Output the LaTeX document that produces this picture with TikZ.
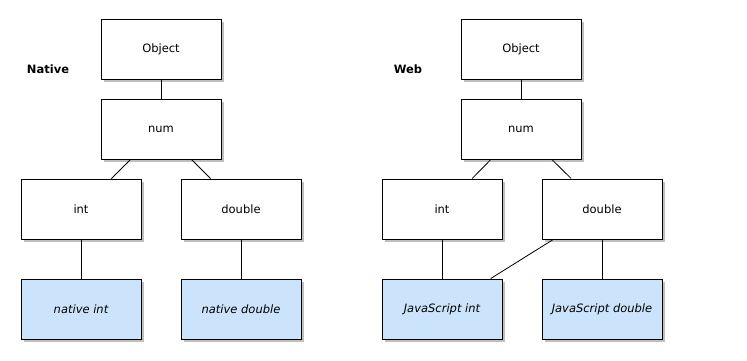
\documentclass[tikz,border=0pt]{standalone}
\usepackage{fontspec}
\setmainfont{DejaVu Sans}
\usetikzlibrary{shadows}
\definecolor{boxblue}{RGB}{204,228,251}

\begin{document}
\begin{tikzpicture}[x=1pt, y=1pt, every node/.style={font=\fontsize{11.5}{13}\selectfont},
	t/.style={draw, line width=0.9pt, fill=white, minimum width=120pt, minimum height=60pt, inner sep=0pt, drop shadow={shadow xshift=3pt, shadow yshift=-3pt, fill=black!25, opacity=1}},
	impl/.style={t, fill=boxblue, font=\fontsize{11.5}{13}\selectfont\itshape},
	e/.style={line width=0.8pt}]
	\useasboundingbox (0,0) rectangle (747,-361);
	\begin{scope}
		\node[font=\fontsize{11.5}{13}\selectfont\bfseries] (native) at (48,-69) {Native};
		\node[t] (O) at (161,-49) {Object}; \node[t] (N) at (161,-129) {num};
		\node[t] (I) at (81,-209) {int}; \node[t] (D) at (241,-209) {double};
		\node[impl] (NI) at (81,-309) {native int}; \node[impl] (ND) at (241,-309) {native double};
		\draw[e] (O) -- (N); \draw[e] (N) -- (I); \draw[e] (N) -- (D);
		\draw[e] (I) -- (NI); \draw[e] (D) -- (ND);
	\end{scope}
	\begin{scope}[xshift=360pt]
		\node[font=\fontsize{11.5}{13}\selectfont\bfseries] (web) at (48,-69) {Web};
		\node[t] (O) at (161,-49) {Object}; \node[t] (N) at (161,-129) {num};
		\node[t] (I) at (82,-209) {int}; \node[t] (D) at (242,-209) {double};
		\node[impl] (JI) at (82,-309) {JavaScript int}; \node[impl] (JD) at (242,-309) {JavaScript double};
		\draw[e] (O) -- (N); \draw[e] (N) -- (I); \draw[e] (N) -- (D);
		\draw[e] (I) -- (JI); \draw[e] (D) -- (JD); \draw[e] (D) -- (JI);
	\end{scope}
\end{tikzpicture}
\end{document}
